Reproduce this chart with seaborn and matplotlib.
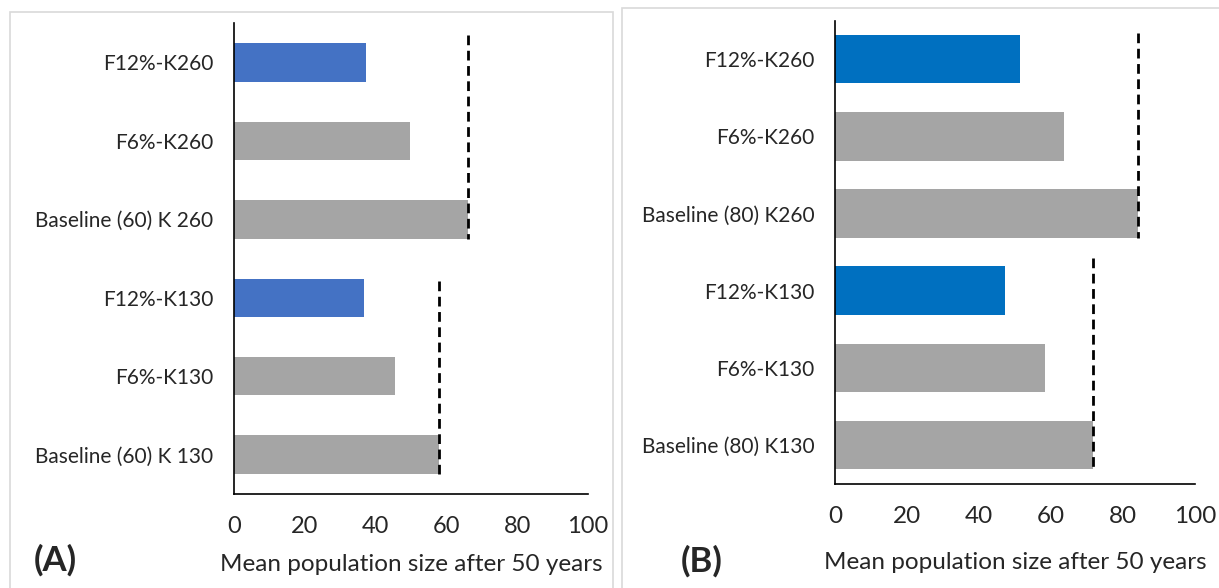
import matplotlib
matplotlib.use("Agg")
import matplotlib.pyplot as plt
from matplotlib.patches import Rectangle
import seaborn as sns
import pandas as pd

# ---------------------------------------------------------------------------
# Data
# ---------------------------------------------------------------------------
LABELS_A = ["F12%-K260", "F6%-K260", "Baseline (60) K 260",
            "F12%-K130", "F6%-K130", "Baseline (60) K 130"]
VALUES_A = [37.2, 49.7, 66.0, 36.7, 45.4, 57.8]

LABELS_B = ["F12%-K260", "F6%-K260", "Baseline (80) K260",
            "F12%-K130", "F6%-K130", "Baseline (80) K130"]
VALUES_B = [51.5, 63.5, 84.3, 47.2, 58.2, 71.8]

GROUP = ["F12", "F6", "Base", "F12", "F6", "Base"]
XTICKS = [0, 20, 40, 60, 80, 100]
XLABEL = "Mean population size after 50 years"

GRAY = "#A5A5A5"

sns.set_style("white")
plt.rcParams["font.family"] = ["Lato", "DejaVu Sans"]


def draw_panel(ax, labels, values, blue, bar_w, tick_fs, xtick_fs,
               dash_over, xlabel_pad):
    df = pd.DataFrame({"label": labels, "value": values, "group": GROUP})
    pal = {"F12": blue, "F6": GRAY, "Base": GRAY}
    sns.barplot(data=df, y="label", x="value", hue="group", palette=pal,
                legend=False, width=bar_w, orient="h", ax=ax,
                saturation=1, linewidth=0)

    # dashed reference lines at the baseline values, spanning each K group
    for base_idx, over in zip((2, 5), dash_over):
        ax.vlines(values[base_idx], base_idx - 2 - over,
                  base_idx + bar_w / 2, colors="black",
                  linestyles=(0, (3.5, 2)), linewidth=2.0, zorder=5)

    ax.set_xlim(0, 100)
    ax.set_ylim(5.5, -0.5)
    ax.set_xticks(XTICKS)
    ax.set_xticks(range(10, 100, 20), minor=True)
    ax.tick_params(axis="x", which="major", direction="out", length=6,
                   width=1, color="black", labelsize=xtick_fs, pad=10)
    ax.tick_params(axis="x", which="minor", direction="out", length=4,
                   width=1, color="black")
    ax.tick_params(axis="y", length=0, labelsize=tick_fs, pad=15)
    for side in ("top", "right"):
        ax.spines[side].set_visible(False)
    for side in ("left", "bottom"):
        ax.spines[side].set_color("black")
        ax.spines[side].set_linewidth(1.2)
    ax.set_ylabel("")
    ax.set_xlabel(XLABEL, fontsize=17.5, labelpad=xlabel_pad)


fig = plt.figure(figsize=(12.19, 5.88), dpi=100)

# light panel frames
fig.patches.append(Rectangle((10 / 1219, -0.1), 603 / 1219, 1.1 - 12 / 588,
                             transform=fig.transFigure, fill=False,
                             edgecolor="#D9D9D9", linewidth=1.2))
fig.patches.append(Rectangle((622 / 1219, -0.1), 0.6, 1.1 - 8 / 588,
                             transform=fig.transFigure, fill=False,
                             edgecolor="#D9D9D9", linewidth=1.2))

ax_a = fig.add_axes([0.192, 0.160, 0.2904, 0.8005])
ax_b = fig.add_axes([0.685, 0.1774, 0.2953, 0.7876])

draw_panel(ax_a, LABELS_A, VALUES_A, "#4472C4", 0.49, 15, 17, (0.35, 0.22), 12)
draw_panel(ax_b, LABELS_B, VALUES_B, "#0070C0", 0.63, 15, 17.5, (0.34, 0.42), 18)

fig.text(34 / 1219, 1 - 560 / 588, "(A)", fontsize=25, fontweight="bold",
         va="center", ha="left")
fig.text(681 / 1219, 1 - 561 / 588, "(B)", fontsize=25, fontweight="bold",
         va="center", ha="left")

fig.savefig("out.png", dpi=100)
